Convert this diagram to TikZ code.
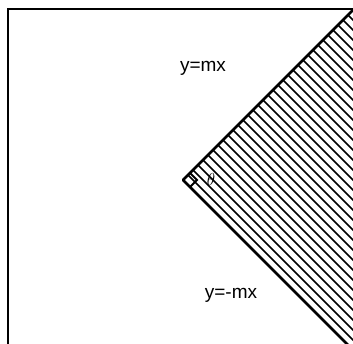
\documentclass[tikz,border=0pt]{standalone}
\usepackage{fontspec}
\setsansfont{Liberation Sans}
\usetikzlibrary{calc}
\tikzset{
  edgeline/.style={line width=2.6pt, line cap=round},
  hatchline/.style={line width=1.5pt},
  eqlabel/.style={font=\sffamily\fontsize{19}{19}\selectfont, inner sep=0pt}
}

\begin{document}
\begin{tikzpicture}[x=1pt, y=1pt]
    \useasboundingbox (0,0) rectangle (353,344);
    \clip (0,0) rectangle (353,344);
    % frame
    \draw [edgeline, line width=2.2pt, line cap=butt] (8,-2) -- (8,335) -- (360,335);
    % the wedge
    \coordinate (vertex) at (183,164);
    \coordinate (upper) at (353,334);
    \coordinate (lower) at (360,-13);
    % hatching between the two lines
    \foreach \k in {357,367,...,687}
        \draw [hatchline] ({(\k+19)/2},{(\k-19)/2}) -- (370,{\k-370});
    \draw [edgeline] (vertex) -- (upper);
    \draw [edgeline] (vertex) -- (lower);
    % right angle mark
    \draw [line width=2pt] ($(vertex)+(7,7)$) -- ($(vertex)+(14,0)$) -- ($(vertex)+(7,-7)$);
    \node (theta) at (211,164) {\fontsize{19}{19}\selectfont$\theta$};
    \node (upeq) [eqlabel] at (203,276) {y=mx};
    \node (loweq) [eqlabel] at (231,49) {y=-mx};
\end{tikzpicture}
\end{document}
